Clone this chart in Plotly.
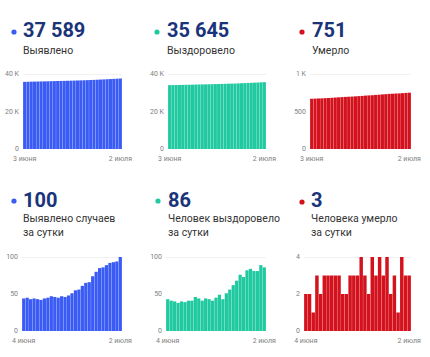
import plotly.graph_objects as go

W, H = 430, 357

# ---------------- data ----------------
dates_total = ["2020-06-03", "2020-06-04", "2020-06-05", "2020-06-06", "2020-06-07",
               "2020-06-08", "2020-06-09", "2020-06-10", "2020-06-11", "2020-06-12",
               "2020-06-13", "2020-06-14", "2020-06-15", "2020-06-16", "2020-06-17",
               "2020-06-18", "2020-06-19", "2020-06-20", "2020-06-21", "2020-06-22",
               "2020-06-23", "2020-06-24", "2020-06-25", "2020-06-26", "2020-06-27",
               "2020-06-28", "2020-06-29", "2020-06-30", "2020-07-01", "2020-07-02"]
dates_daily = ["2020-06-04", "2020-06-05", "2020-06-06", "2020-06-07",
               "2020-06-08", "2020-06-09", "2020-06-10", "2020-06-11", "2020-06-12",
               "2020-06-13", "2020-06-14", "2020-06-15", "2020-06-16", "2020-06-17",
               "2020-06-18", "2020-06-19", "2020-06-20", "2020-06-21", "2020-06-22",
               "2020-06-23", "2020-06-24", "2020-06-25", "2020-06-26", "2020-06-27",
               "2020-06-28", "2020-06-29", "2020-06-30", "2020-07-01", "2020-07-02"]

total_cases = [35813, 35857, 35902, 35945, 35989, 36032, 36074, 36118, 36163, 36210,
               36256, 36301, 36348, 36394, 36442, 36493, 36548, 36604, 36665, 36730,
               36796, 36870, 36950, 37035, 37121, 37210, 37302, 37395, 37489, 37589]
total_recovered = [34037, 34080, 34121, 34161, 34199, 34239, 34278, 34319, 34360, 34406,
                   34450, 34491, 34535, 34578, 34619, 34664, 34713, 34756, 34807, 34863,
                   34925, 34993, 35069, 35142, 35224, 35308, 35389, 35470, 35559, 35645]
total_deaths = [670, 672, 674, 675, 678, 680, 683, 686, 689, 692,
                695, 697, 699, 702, 705, 708, 712, 715, 717, 721,
                724, 728, 731, 735, 737, 740, 741, 745, 748, 751]

daily_cases = [44, 45, 43, 44, 43, 42, 44, 45, 47, 46, 45, 47, 46, 48, 51,
               55, 56, 61, 65, 66, 74, 80, 85, 86, 89, 92, 93, 94, 100]
daily_recovered = [43, 41, 40, 38, 40, 39, 41, 41, 46, 44, 41, 44, 43, 41, 45,
                   49, 43, 51, 56, 62, 68, 76, 73, 82, 84, 81, 81, 89, 86]
daily_deaths = [2, 2, 1, 3, 2, 3, 3, 3, 3, 3, 2, 2, 3, 3, 3,
                4, 3, 2, 4, 3, 4, 3, 4, 2, 3, 1, 4, 3, 3]

headline_values = ["37 589", "35 645", "751", "100", "86", "3"]
headline_labels = ["Выявлено", "Выздоровело", "Умерло",
                   "Выявлено случаев<br>за сутки", "Человек выздоровело<br>за сутки",
                   "Человека умерло<br>за сутки"]

tick_total_x = ["3 июня", "2 июля"]
tick_daily_x = ["4 июня", "2 июля"]

big_ticks_vals = [0, 20000, 40000]
big_ticks_text = ["0", "20 K", "40 K"]
death_ticks_vals = [0, 500, 1000]
death_ticks_text = ["0", "500", "1 K"]
daily_ticks_vals = [0, 50, 100]
daily_ticks_text = ["0", "50", "100"]
dd_ticks_vals = [0, 2, 4]
dd_ticks_text = ["0", "2", "4"]

# ---------------- style ----------------
BLUE = "#3a5cf5"
TEAL = "#20c9a0"
RED = "#d3121d"
NAVY = "#1a347a"
LABEL = "#333333"
TICK = "#808080"
FONT = "Roboto"

panels = [
    # x, y, color, x0px, x1px, row, yticks, yticktext, xticktext
    (dates_total, total_cases, BLUE, 23, 122, 0, big_ticks_vals, big_ticks_text, tick_total_x),
    (dates_total, total_recovered, TEAL, 168, 266, 0, big_ticks_vals, big_ticks_text, tick_total_x),
    (dates_total, total_deaths, RED, 310, 411, 0, death_ticks_vals, death_ticks_text, tick_total_x),
    (dates_daily, daily_cases, BLUE, 22, 122, 1, daily_ticks_vals, daily_ticks_text, tick_daily_x),
    (dates_daily, daily_recovered, TEAL, 166, 266, 1, daily_ticks_vals, daily_ticks_text, tick_daily_x),
    (dates_daily, daily_deaths, RED, 304, 411, 1, dd_ticks_vals, dd_ticks_text, tick_daily_x),
]
row_y = [(74, 149), (257, 331)]

text_x = [21, 165, 310, 21, 166, 309]
dot_x = [14, 157, 302, 14, 158, 302]
dot_y = [32, 32, 32, 201, 201, 202]
num_y = [30, 30, 30, 199.5, 199.5, 199.5]
lab_y = [50.5, 50.5, 50.5, 225.3, 225.3, 225.3]
colors = [BLUE, TEAL, RED, BLUE, TEAL, RED]

fig = go.Figure()
layout = dict(width=W, height=H, margin=dict(l=0, r=0, t=0, b=0, autoexpand=False),
              paper_bgcolor="white", plot_bgcolor="white", showlegend=False,
              bargap=0.06, font=dict(family=FONT))
shapes = []
annotations = []

for i, (xs, ys, col, x0, x1, row, tv, tt, xt) in enumerate(panels):
    s = "" if i == 0 else str(i + 1)
    fig.add_trace(go.Bar(x=xs, y=ys, marker=dict(color=col, line=dict(width=0)),
                         xaxis="x" + s, yaxis="y" + s, hoverinfo="skip"))
    top, bot = row_y[row]
    layout["xaxis" + s] = dict(domain=[x0 / W, x1 / W], anchor="y" + s, type="category",
                               range=[-0.5, len(xs) - 0.5], tickmode="array",
                               tickvals=[xs[0], xs[-1]], ticktext=xt, ticks="",
                               showgrid=False, zeroline=False, showline=False,
                               automargin=False, ticklabelstandoff=4,
                               tickfont=dict(size=7, color=TICK, family=FONT))
    layout["yaxis" + s] = dict(domain=[1 - bot / H, 1 - top / H], anchor="x" + s,
                               range=[0, tv[-1]], tickmode="array", tickvals=tv,
                               ticktext=tt, ticks="", showgrid=False, zeroline=False,
                               showline=False, automargin=False, ticklabelstandoff=3,
                               tickfont=dict(size=7, color=TICK, family=FONT))
    shapes.append(dict(type="line", xref="x" + s + " domain", yref="y" + s,
                       x0=0, x1=1, y0=tv[-1], y1=tv[-1], layer="below",
                       line=dict(color="#e4e4e4", width=1)))

for i in range(6):
    r = 2.6
    shapes.append(dict(type="circle", xref="paper", yref="paper",
                       x0=(dot_x[i] - r) / W, x1=(dot_x[i] + r) / W,
                       y0=1 - (dot_y[i] + r) / H, y1=1 - (dot_y[i] - r) / H,
                       fillcolor=colors[i], line=dict(width=0)))
    annotations.append(dict(xref="paper", yref="paper", x=text_x[i] / W,
                            y=1 - num_y[i] / H, xanchor="left", yanchor="middle",
                            showarrow=False, text=headline_values[i],
                            font=dict(family=FONT, size=20, color=NAVY, weight=700)))
    annotations.append(dict(xref="paper", yref="paper", x=text_x[i] / W,
                            y=1 - lab_y[i] / H, xanchor="left", yanchor="middle",
                            showarrow=False, text=headline_labels[i], align="left",
                            font=dict(family=FONT, size=10.5, color=LABEL)))

layout["shapes"] = shapes
layout["annotations"] = annotations
fig.update_layout(**layout)
fig.write_html("out.html", config={"displayModeBar": False},
               post_script="document.body.style.margin='0px';document.body.style.overflow='hidden';")
